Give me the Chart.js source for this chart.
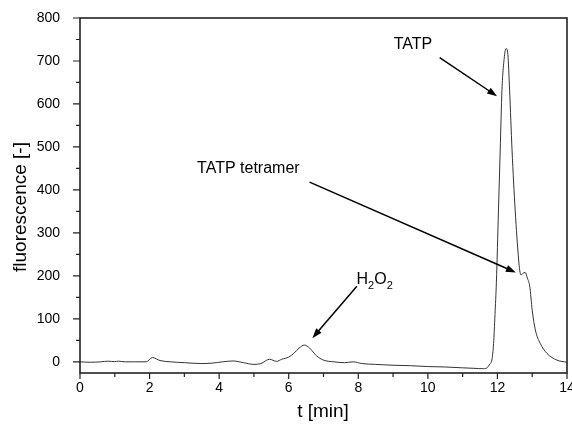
<!DOCTYPE html>
<html>
<head>
<meta charset="utf-8">
<script src="https://cdn.jsdelivr.net/npm/chart.js@4.4.1/dist/chart.umd.min.js"></script>
<style>
  html, body { margin: 0; padding: 0; background: #fff; }
  #wrap { width: 572px; height: 430px; }
</style>
</head>
<body>
<div id="wrap"><canvas id="chart" width="572" height="430"></canvas></div>
<script>
// retention time (min) and detector signal
const timeMin = [
  0, 0.3, 0.6, 0.8, 1.0, 1.1, 1.3, 1.6, 1.9, 2.08, 2.3, 2.6, 3.0, 3.5, 3.8,
  4.1, 4.4, 4.7, 5.0, 5.2, 5.45, 5.65, 5.8, 6.0, 6.15, 6.3, 6.45, 6.6, 6.8,
  7.0, 7.3, 7.6, 7.85, 8.1, 8.5, 9.0, 9.5, 10.0, 10.5, 11.0, 11.3, 11.6,
  11.7, 11.78, 11.84, 11.89, 11.93, 11.97, 12.03, 12.08, 12.13, 12.2, 12.25,
  12.3, 12.35, 12.42, 12.51, 12.61, 12.64, 12.68, 12.72, 12.8, 12.86, 12.93,
  13.0, 13.09, 13.23, 13.42, 13.71, 14.0
];
const fluorescence = [
  0, -1, 0, 1.5, 0.5, 1.5, 0, 0, 0, 10, 3, 0, -2, -4, -3,
  0, 2, -2, -6, -4, 6, 1, 6, 11, 20, 32, 39, 32, 14,
  4, 0, -2, 0, -4, -6, -8, -9, -11, -12, -14, -15, -16,
  -14, -5, 4, 43, 110, 185, 353, 493, 632, 710, 729,
  715, 632, 493, 353, 237, 213, 202, 205, 208, 195, 175,
  120, 74, 43, 20, 4, -1
];

const xTicks = [0, 2, 4, 6, 8, 10, 12, 14];
const xMinorTicks = [1, 3, 5, 7, 9, 11, 13];
const yTicks = [0, 100, 200, 300, 400, 500, 600, 700, 800];
const yMinorTicks = [50, 150, 250, 350, 450, 550, 650, 750];

const FONT = "'Liberation Sans', Arial, sans-serif";

// peak labels with arrows, in data units
const notes = [
  { text: "TATP", x: 9.57, y: 739, from: [10.34, 708], to: [11.99, 618] },
  { text: "TATP tetramer", x: 4.84, y: 449, from: [6.60, 418], to: [12.53, 208] },
  { text: "H2O2", x: 8.47, y: 196, from: [7.96, 176], to: [6.68, 55] },
];

function drawArrow(ctx, x1, y1, x2, y2) {
  const ang = Math.atan2(y2 - y1, x2 - x1);
  const len = 10, half = 3.5;
  ctx.beginPath();
  ctx.moveTo(x1, y1);
  ctx.lineTo(x2 - Math.cos(ang) * len * 0.8, y2 - Math.sin(ang) * len * 0.8);
  ctx.stroke();
  ctx.beginPath();
  ctx.moveTo(x2, y2);
  ctx.lineTo(x2 - Math.cos(ang) * len - Math.sin(ang) * half, y2 - Math.sin(ang) * len + Math.cos(ang) * half);
  ctx.lineTo(x2 - Math.cos(ang) * len + Math.sin(ang) * half, y2 - Math.sin(ang) * len - Math.cos(ang) * half);
  ctx.closePath();
  ctx.fill();
}

function drawH2O2(ctx, cx, cy) {
  const big = "16px " + FONT, small = "11px " + FONT;
  ctx.font = big;
  const wH = ctx.measureText("H").width, wO = ctx.measureText("O").width;
  ctx.font = small;
  const w2 = ctx.measureText("2").width;
  let x = cx - (wH + wO + 2 * w2) / 2;
  ctx.textAlign = "left";
  ctx.textBaseline = "alphabetic";
  ctx.font = big; ctx.fillText("H", x, cy + 6); x += wH;
  ctx.font = small; ctx.fillText("2", x, cy + 11); x += w2;
  ctx.font = big; ctx.fillText("O", x, cy + 6); x += wO;
  ctx.font = small; ctx.fillText("2", x, cy + 11);
}

const framePlugin = {
  id: "frame",
  afterDraw(chart) {
    const { ctx, chartArea: a } = chart;
    const xs = chart.scales.x, ys = chart.scales.y;
    ctx.save();
    ctx.strokeStyle = "#222";
    ctx.lineWidth = 1.6;
    ctx.strokeRect(a.left, a.top, a.right - a.left, a.bottom - a.top);

    ctx.lineWidth = 1.2;
    ctx.beginPath();
    yTicks.forEach(v => { const p = ys.getPixelForValue(v); ctx.moveTo(a.left - 7, p); ctx.lineTo(a.left, p); });
    yMinorTicks.forEach(v => { const p = ys.getPixelForValue(v); ctx.moveTo(a.left - 4, p); ctx.lineTo(a.left, p); });
    xTicks.forEach(v => { const p = xs.getPixelForValue(v); ctx.moveTo(p, a.bottom); ctx.lineTo(p, a.bottom + 6); });
    xMinorTicks.forEach(v => { const p = xs.getPixelForValue(v); ctx.moveTo(p, a.bottom); ctx.lineTo(p, a.bottom + 4); });
    ctx.stroke();

    // axis titles
    ctx.fillStyle = "#000";
    ctx.font = "19px " + FONT;
    ctx.textAlign = "center";
    ctx.textBaseline = "middle";
    ctx.fillText("t [min]", 323, 412);
    ctx.save();
    ctx.translate(21, 207);
    ctx.rotate(-Math.PI / 2);
    ctx.fillText("fluorescence [-]", 0, 0);
    ctx.restore();

    // annotations
    ctx.strokeStyle = "#000";
    ctx.lineWidth = 1.5;
    notes.forEach(n => {
      const px = xs.getPixelForValue(n.x), py = ys.getPixelForValue(n.y);
      if (n.text === "H2O2") {
        drawH2O2(ctx, px, py);
      } else {
        ctx.font = "16px " + FONT;
        ctx.textAlign = "center";
        ctx.textBaseline = "middle";
        ctx.fillText(n.text, px, py);
      }
      drawArrow(ctx,
        xs.getPixelForValue(n.from[0]), ys.getPixelForValue(n.from[1]),
        xs.getPixelForValue(n.to[0]), ys.getPixelForValue(n.to[1]));
    });
    ctx.restore();
  }
};

function createChart() {
  const ctx = document.getElementById("chart").getContext("2d");
  return new Chart(ctx, {
    type: "line",
    data: {
      datasets: [{
        label: "fluorescence",
        data: timeMin.map((t, i) => ({ x: t, y: fluorescence[i] })),
        borderColor: "#333",
        backgroundColor: "transparent",
        borderWidth: 1,
        pointRadius: 0,
        cubicInterpolationMode: "monotone",
      }],
    },
    options: {
      responsive: false,
      animation: false,
      devicePixelRatio: 1,
      layout: { padding: { top: 18, right: 5, left: 0, bottom: 0 } },
      plugins: { legend: { display: false }, tooltip: { enabled: false } },
      scales: {
        x: {
          type: "linear",
          min: 0,
          max: 14,
          grid: { display: false },
          border: { display: false },
          afterBuildTicks: s => { s.ticks = xTicks.map(v => ({ value: v })); },
          afterFit: s => { s.height = 57; s.paddingLeft = 0; s.paddingRight = 0; },
          ticks: { color: "#000", padding: -1, maxRotation: 0, font: { family: FONT, size: 14 } },
        },
        y: {
          min: -26,
          max: 800,
          grid: { display: false },
          border: { display: false },
          afterBuildTicks: s => { s.ticks = yTicks.map(v => ({ value: v })); },
          afterFit: s => { s.width = 80; s.paddingTop = 0; s.paddingBottom = 0; },
          ticks: { color: "#000", padding: 12, font: { family: FONT, size: 14 } },
        },
      },
    },
    plugins: [framePlugin],
  });
}

document.addEventListener("DOMContentLoaded", () => {
  createChart();
});
</script>
</body>
</html>
